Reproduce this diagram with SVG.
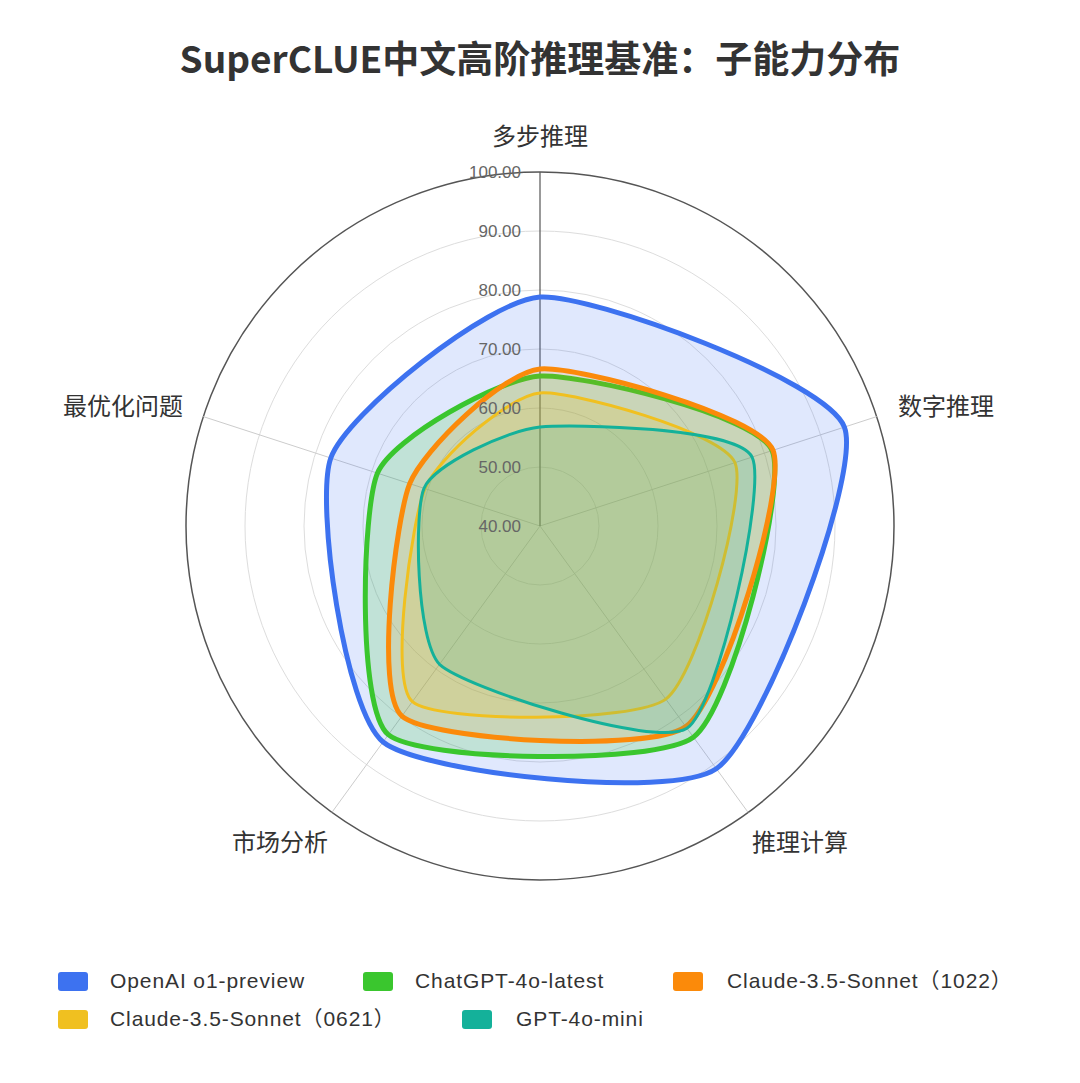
<svg xmlns="http://www.w3.org/2000/svg" width="1080" height="1083" viewBox="0 0 1080 1083">
<style>
text{font-family:"Noto Sans CJK SC","Liberation Sans",sans-serif;fill:#333}
.title{font-size:37px;font-weight:bold;text-anchor:middle}
.ax{font-size:24px}
.tick{font-size:17px;fill:#666;text-anchor:end;font-family:"Liberation Sans","Noto Sans",sans-serif}
.grid{fill:none;stroke:#ddd;stroke-width:1}
.spoke{stroke:#ccc;stroke-width:1}
.leg{font-size:21px;letter-spacing:0.9px;font-family:"Liberation Sans","Noto Sans CJK SC",sans-serif}
.s{stroke-width:5;stroke-linejoin:round}
</style>
<rect width="1080" height="1083" fill="#fff"/>
<text class="title" x="540" y="73">SuperCLUE中文高阶推理基准：子能力分布</text>
<g id="grid">
<circle class="grid" cx="540" cy="526" r="59"/>
<circle class="grid" cx="540" cy="526" r="118"/>
<circle class="grid" cx="540" cy="526" r="177"/>
<circle class="grid" cx="540" cy="526" r="236"/>
<circle class="grid" cx="540" cy="526" r="295"/>
<circle cx="540" cy="526" r="354" fill="none" stroke="#555" stroke-width="1.5"/>
<line class="spoke" x1="540" y1="526" x2="876.7" y2="416.6"/>
<line class="spoke" x1="540" y1="526" x2="748.1" y2="812.4"/>
<line class="spoke" x1="540" y1="526" x2="331.9" y2="812.4"/>
<line class="spoke" x1="540" y1="526" x2="203.3" y2="416.6"/>
<line x1="540" y1="526" x2="540" y2="172" stroke="#555" stroke-width="1.2"/>
</g>
<g id="series">
<path id="o1" class="s" fill="rgba(61,114,240,0.16)" stroke="#3d72f0" d="M540,297 C591.4,293.9 826.8,380 844.4,427.1 C862.1,474.3 762.5,737.2 716.3,768.7 C670.2,800.2 421.7,773.1 383.1,742 C344.6,711 315.1,502.5 330.8,458 C346.5,413.5 488.7,300.1 540,297Z"/>
<path id="gpt4o" class="s" fill="rgba(58,198,46,0.18)" stroke="#3ac62e" d="M540,376 C579.5,373.8 756.8,414.5 772.1,450.6 C787.5,486.7 731.8,708.8 693.4,737.2 C655,765.6 419.9,761.1 388.3,734.7 C356.7,708.3 362.3,509.1 377.4,473.2 C392.6,437.4 500.5,378.3 540,376Z"/>
<path id="c1022" class="s" fill="rgba(251,138,10,0.15)" stroke="#fb8a0a" d="M540,369 C576.4,365.7 758.4,414.6 773,450.3 C787.6,486.1 722.9,700 685.8,726.6 C648.7,753.2 429.5,740.4 401.9,716.1 C374.3,691.8 395.9,518.4 409.7,483.7 C423.5,449 503.7,372.4 540,369Z"/>
<path id="c0621" stroke-width="3" stroke-linejoin="round" fill="rgba(240,192,32,0.18)" stroke="#f0c020" d="M540,393 C571,390.4 722.4,432.1 735,462.7 C747.6,493.3 698.1,675.2 665.8,699.1 C633.6,723 436.5,722.7 412.4,701.6 C388.3,680.6 412.2,519.5 424.9,488.6 C437.7,457.8 509,395.6 540,393Z"/>
<path id="mini" stroke-width="3" stroke-linejoin="round" fill="rgba(20,177,154,0.15)" stroke="#14b19a" d="M540,427 C572.8,423.9 737.4,427 752.1,457.1 C766.8,487.3 718.2,707.6 686.9,728.3 C655.7,749 465.8,688.3 439.5,664.3 C416.2,640.3 414,512.1 424,488.3 C434.1,464.6 507.2,430.1 540,427Z"/>
</g>
<g id="ticks">
<text class="tick" x="521" y="532">40.00</text>
<text class="tick" x="521" y="473">50.00</text>
<text class="tick" x="521" y="414">60.00</text>
<text class="tick" x="521" y="355">70.00</text>
<text class="tick" x="521" y="296">80.00</text>
<text class="tick" x="521" y="237">90.00</text>
<text class="tick" x="521" y="178">100.00</text>
</g>
<g id="axis-labels">
<text class="ax" x="540" y="145" text-anchor="middle">多步推理</text>
<text class="ax" x="898" y="415">数字推理</text>
<text class="ax" x="752" y="851">推理计算</text>
<text class="ax" x="328" y="851" text-anchor="end">市场分析</text>
<text class="ax" x="183" y="415" text-anchor="end">最优化问题</text>
</g>
<g id="legend">
<rect x="58" y="972" width="30" height="19" rx="3" fill="#3d72f0"/>
<text class="leg" x="110" y="988">OpenAI o1-preview</text>
<rect x="363" y="972" width="30" height="19" rx="3" fill="#3ac62e"/>
<text class="leg" x="415" y="988">ChatGPT-4o-latest</text>
<rect x="673" y="972" width="30" height="19" rx="3" fill="#fb8a0a"/>
<text class="leg" x="727" y="988">Claude-3.5-Sonnet（1022）</text>
<rect x="58" y="1010" width="30" height="19" rx="3" fill="#f0c020"/>
<text class="leg" x="110" y="1026">Claude-3.5-Sonnet（0621）</text>
<rect x="462" y="1010" width="30" height="19" rx="3" fill="#14b19a"/>
<text class="leg" x="516" y="1026">GPT-4o-mini</text>
</g>
</svg>
